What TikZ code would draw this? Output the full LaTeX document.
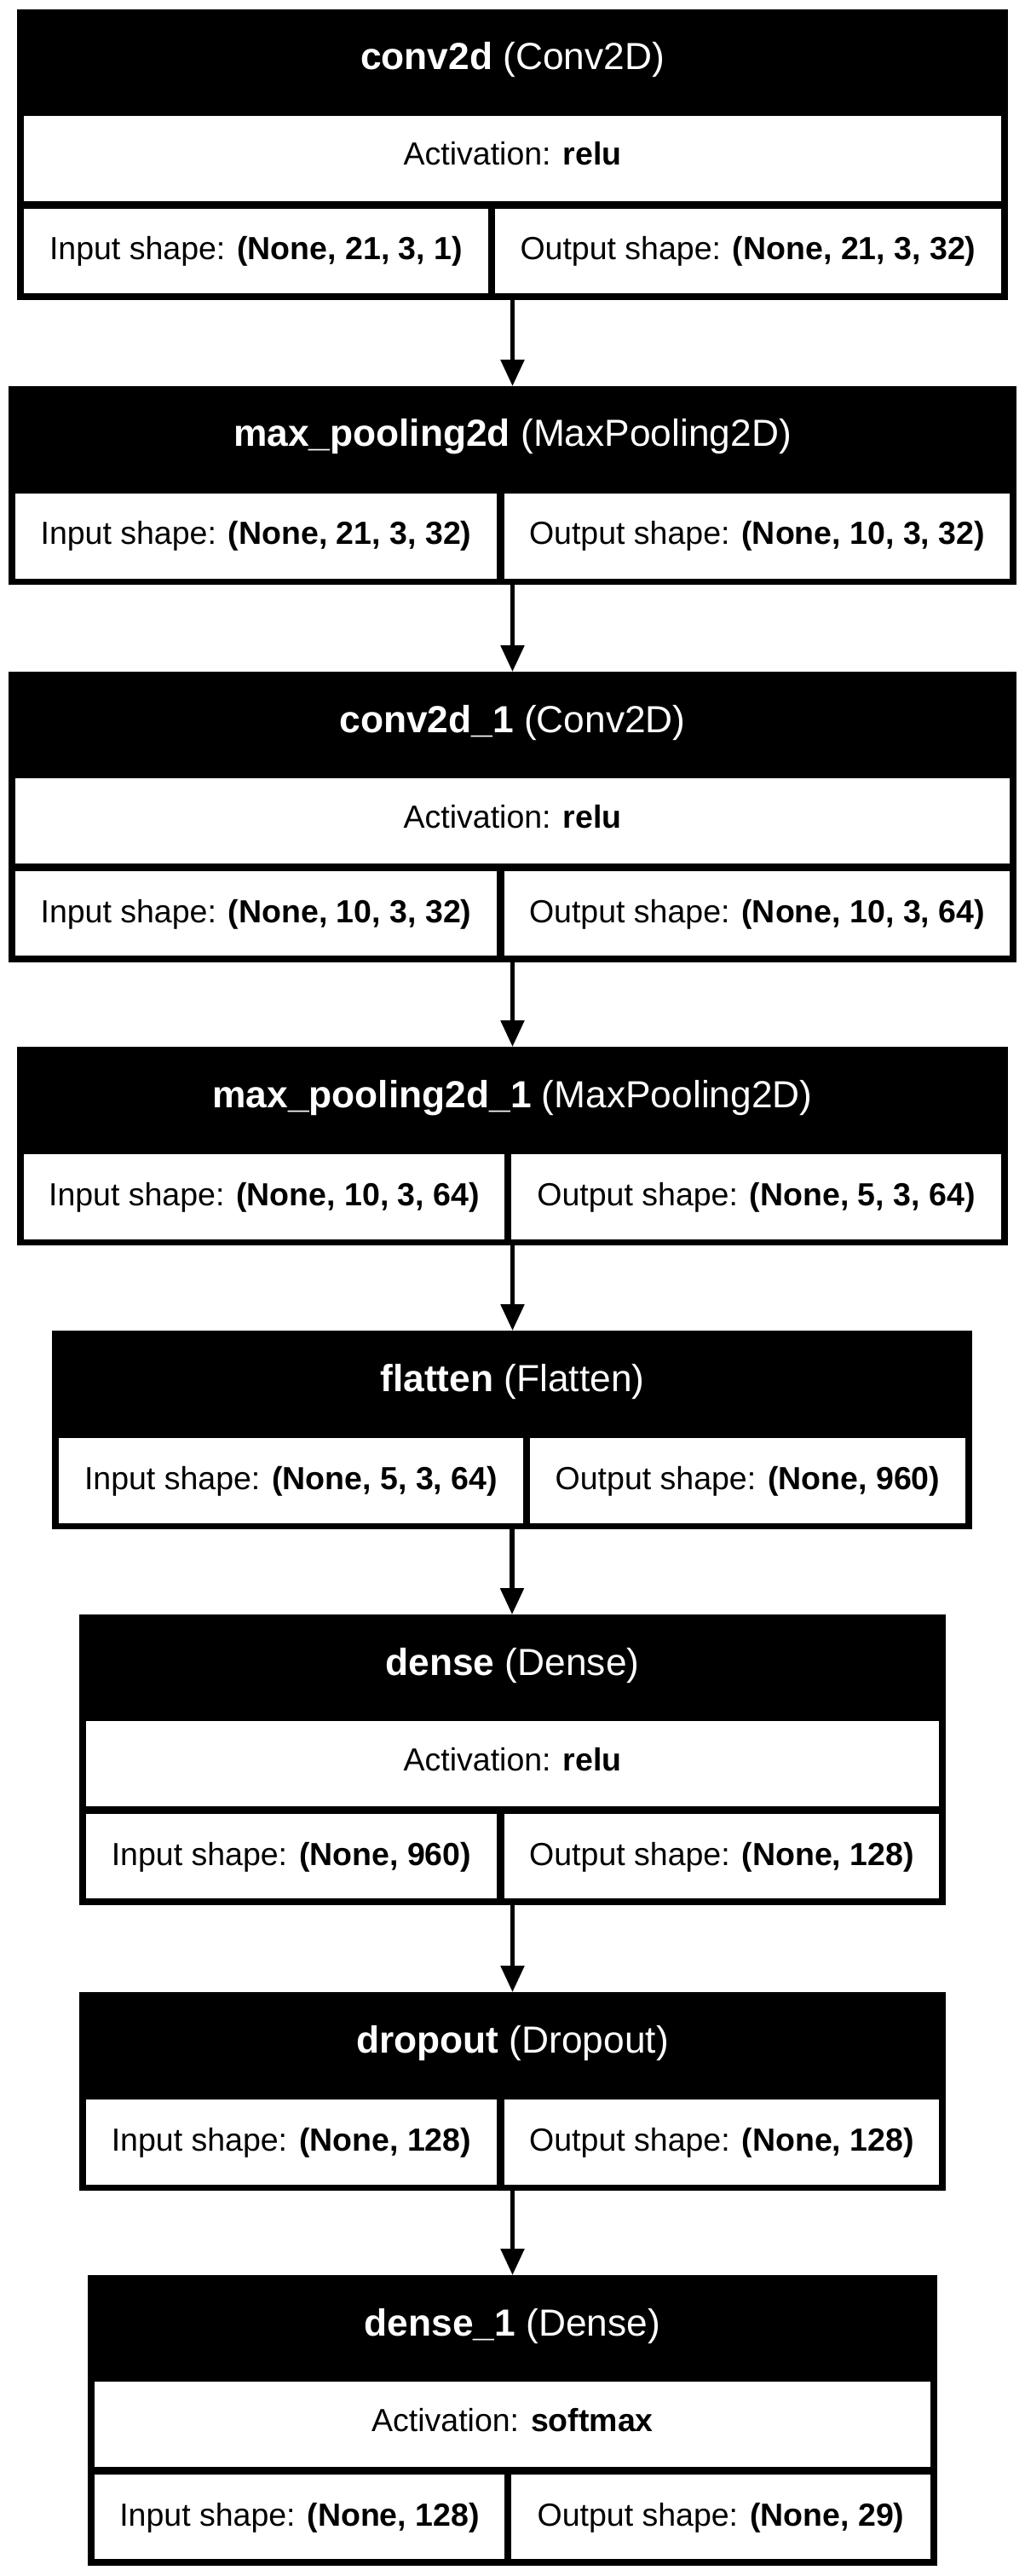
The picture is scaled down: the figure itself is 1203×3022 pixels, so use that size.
\documentclass[tikz,border=0pt]{standalone}
\usepackage{fontspec}
\setmainfont{Liberation Sans}
\usetikzlibrary{arrows.meta}
\newcommand{\myhfont}{\fontsize{22.15pt}{26pt}\selectfont}
\newcommand{\mybfont}{\fontsize{18.75pt}{22pt}\selectfont}
\newcommand{\outerbox}[5]{\node[outerbox, minimum width={(#4-#2)*0.5pt}, minimum height={(#5-#3)*0.5pt}] (#1) at ({(#2+#4)/2},{(#3+#5)/2}) {};}
\tikzset{
  outerbox/.style={rectangle, fill=black, draw=none, inner sep=0pt, outer sep=0pt},
  cellfill/.style={fill=white},
  hdrtxt/.style={anchor=base, inner sep=0pt, text=white, font=\myhfont},
  bodytxt/.style={anchor=base, inner sep=0pt, text=black, font=\mybfont},
  arr/.style={line width=2.75pt, -{Triangle[length=15.5pt,width=13.5pt]}}
}
\begin{document}
\begin{tikzpicture}[x=0.5pt,y=-0.5pt]
\useasboundingbox[fill=white] (0,0) rectangle (1203,3022);

% Block 1: conv2d
\outerbox{b1}{20}{11}{1183}{352}
\fill[cellfill] (28,136) rectangle (1175,236);
\fill[cellfill] (28,245) rectangle (573,344);
\fill[cellfill] (581,245) rectangle (1175,344);
\node[hdrtxt] (b1h) at (601.5,82) {\textbf{conv2d} (Conv2D)};
\node[bodytxt] (b1a) at (601.5,194) {Activation: \textbf{relu}};
\node[bodytxt] (b1i) at (300.5,305) {Input shape: \textbf{(None, 21, 3, 1)}};
\node[bodytxt] (b1o) at (878,305) {Output shape: \textbf{(None, 21, 3, 32)}};

% Block 2: max_pooling2d
\outerbox{b2}{10}{453}{1193}{686}
\fill[cellfill] (18,579) rectangle (583,679);
\fill[cellfill] (592,579) rectangle (1185,679);
\node[hdrtxt] (b2h) at (601.5,524) {\textbf{max\_pooling2d} (MaxPooling2D)};
\node[bodytxt] (b2i) at (300.5,639) {Input shape: \textbf{(None, 21, 3, 32)}};
\node[bodytxt] (b2o) at (888.5,639) {Output shape: \textbf{(None, 10, 3, 32)}};

% Block 3: conv2d_1
\outerbox{b3}{10}{788}{1193}{1129}
\fill[cellfill] (18,913) rectangle (1185,1013);
\fill[cellfill] (18,1022) rectangle (583,1121);
\fill[cellfill] (592,1022) rectangle (1185,1121);
\node[hdrtxt] (b3h) at (601.5,859) {\textbf{conv2d\_1} (Conv2D)};
\node[bodytxt] (b3a) at (601.5,971) {Activation: \textbf{relu}};
\node[bodytxt] (b3i) at (300.5,1082) {Input shape: \textbf{(None, 10, 3, 32)}};
\node[bodytxt] (b3o) at (888.5,1082) {Output shape: \textbf{(None, 10, 3, 64)}};

% Block 4: max_pooling2d_1
\outerbox{b4}{20}{1228}{1183}{1461}
\fill[cellfill] (28,1354) rectangle (592,1454);
\fill[cellfill] (600,1354) rectangle (1175,1454);
\node[hdrtxt] (b4h) at (601.5,1299) {\textbf{max\_pooling2d\_1} (MaxPooling2D)};
\node[bodytxt] (b4i) at (310,1414) {Input shape: \textbf{(None, 10, 3, 64)}};
\node[bodytxt] (b4o) at (887.5,1414) {Output shape: \textbf{(None, 5, 3, 64)}};

% Block 5: flatten
\outerbox{b5}{61}{1561}{1141}{1794}
\fill[cellfill] (69,1687) rectangle (614,1787);
\fill[cellfill] (622,1687) rectangle (1133,1787);
\node[hdrtxt] (b5h) at (601.5,1632) {\textbf{flatten} (Flatten)};
\node[bodytxt] (b5i) at (341.5,1747) {Input shape: \textbf{(None, 5, 3, 64)}};
\node[bodytxt] (b5o) at (877.5,1747) {Output shape: \textbf{(None, 960)}};

% Block 6: dense
\outerbox{b6}{93}{1894}{1110}{2235}
\fill[cellfill] (101,2019) rectangle (1102,2119);
\fill[cellfill] (101,2128) rectangle (583,2227);
\fill[cellfill] (592,2128) rectangle (1102,2227);
\node[hdrtxt] (b6h) at (601.5,1965) {\textbf{dense} (Dense)};
\node[bodytxt] (b6a) at (601.5,2077) {Activation: \textbf{relu}};
\node[bodytxt] (b6i) at (342,2188) {Input shape: \textbf{(None, 960)}};
\node[bodytxt] (b6o) at (847,2188) {Output shape: \textbf{(None, 128)}};

% Block 7: dropout
\outerbox{b7}{93}{2337}{1110}{2570}
\fill[cellfill] (101,2463) rectangle (583,2563);
\fill[cellfill] (592,2463) rectangle (1102,2563);
\node[hdrtxt] (b7h) at (601.5,2408) {\textbf{dropout} (Dropout)};
\node[bodytxt] (b7i) at (342,2523) {Input shape: \textbf{(None, 128)}};
\node[bodytxt] (b7o) at (847,2523) {Output shape: \textbf{(None, 128)}};

% Block 8: dense_1
\outerbox{b8}{103}{2669}{1100}{3010}
\fill[cellfill] (111,2794) rectangle (1092,2894);
\fill[cellfill] (111,2903) rectangle (592,3002);
\fill[cellfill] (600,2903) rectangle (1092,3002);
\node[hdrtxt] (b8h) at (601.5,2740) {\textbf{dense\_1} (Dense)};
\node[bodytxt] (b8a) at (601.5,2852) {Activation: \textbf{softmax}};
\node[bodytxt] (b8i) at (351.5,2963) {Input shape: \textbf{(None, 128)}};
\node[bodytxt] (b8o) at (846,2963) {Output shape: \textbf{(None, 29)}};

% Connectors
\draw[arr] (b1.south) -- (b1.south |- b2.north);
\draw[arr] (b2.south) -- (b2.south |- b3.north);
\draw[arr] (b3.south) -- (b3.south |- b4.north);
\draw[arr] (b4.south) -- (b4.south |- b5.north);
\draw[arr] (b5.south) -- (b5.south |- b6.north);
\draw[arr] (b6.south) -- (b6.south |- b7.north);
\draw[arr] (b7.south) -- (b7.south |- b8.north);
\end{tikzpicture}
\end{document}
